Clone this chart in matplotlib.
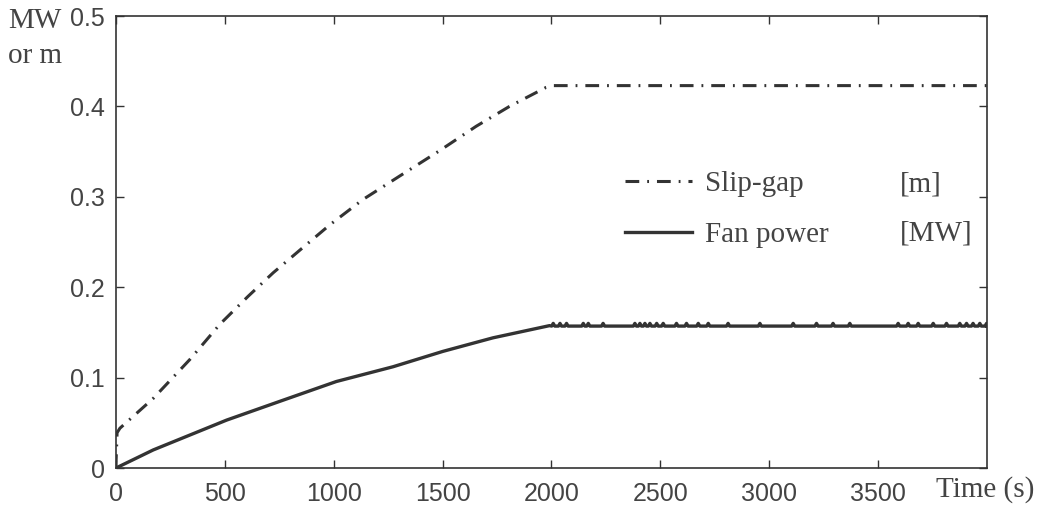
import numpy as np
import matplotlib.pyplot as plt

# slip-gap [m]
slip_t = [0, 0, 5, 18, 171, 339, 477, 607, 722, 859, 982, 1134, 1303, 1486, 1654, 1807, 1975, 2010, 4000]
slip_v = [0.0, 0.005, 0.039, 0.044, 0.077, 0.120, 0.159, 0.190, 0.216, 0.244, 0.269, 0.297, 0.323, 0.351,
          0.378, 0.400, 0.421, 0.423, 0.423]

# fan power [MW], rising part
fan_t = [0, 171, 508, 767, 1012, 1272, 1501, 1731, 1991]
fan_v = [0.0, 0.020, 0.053, 0.075, 0.0957, 0.112, 0.129, 0.144, 0.1575]
# flat part: level plus the small ripples seen on it
fan_level = 0.157
ripple_h = 0.160
ripple_t = [2008, 2039, 2069, 2146, 2169, 2237, 2383, 2406, 2429, 2452, 2483, 2513, 2574, 2620, 2674,
            2720, 2811, 2957, 3110, 3217, 3293, 3370, 3592, 3638, 3684, 3753, 3814, 3875, 3906, 3936,
            3967, 3998]

xticks = [0, 500, 1000, 1500, 2000, 2500, 3000, 3500]
yticks = [0, 0.1, 0.2, 0.3, 0.4, 0.5]
ylabels = ['0', '0.1', '0.2', '0.3', '0.4', '0.5']

# build fan series incl. ripples
ft = list(fan_t)
fv = list(fan_v)
for t in ripple_t:
    ft += [t - 7, t, t + 7]
    fv += [fan_level, ripple_h, fan_level]
ft.append(4000)
fv.append(fan_level)

serif = 'Liberation Serif'
sans = 'Liberation Sans'
ink = '#333333'
txt = '#444444'
fs = 21

fig = plt.figure(figsize=(10.44, 5.08), dpi=100)
ax = fig.add_axes([0.1111, 0.0787, 0.8343, 0.8898])

l1, = ax.plot(slip_t, slip_v, color=ink, lw=2.2, linestyle=(0, (4.5, 2.6, 0.6, 2.6)))
l2, = ax.plot(ft, fv, color=ink, lw=2.4)

ax.set_xlim(0, 4000)
ax.set_ylim(0, 0.5)
ax.set_xticks(xticks)
ax.set_xticklabels([str(x) for x in xticks])
ax.set_yticks(yticks)
ax.set_yticklabels(ylabels)
ax.tick_params(direction='in', top=True, right=True, length=6, width=1, colors=ink,
               labelsize=18, labelcolor=txt)
ax.tick_params(axis='x', pad=10)
ax.tick_params(axis='y', pad=8)
for lab in ax.get_xticklabels() + ax.get_yticklabels():
    lab.set_family(sans)
for s in ax.spines.values():
    s.set_color(ink)
    s.set_linewidth(1.2)

# axis captions
fig.text(0.008, 0.945, 'MW', family=serif, fontsize=fs, color=txt, va='baseline')
fig.text(0.008, 0.876, 'or m', family=serif, fontsize=fs, color=txt, va='baseline')
fig.text(0.8966, 0.0354, 'Time (s)', family=serif, fontsize=fs, color=txt, va='center')

leg = ax.legend([l1, l2], ['Slip-gap', 'Fan power'], loc='upper left', bbox_to_anchor=(0.584, 0.658),
                frameon=False, prop={'family': serif, 'size': fs}, handlelength=2.3,
                handletextpad=0.45, labelspacing=0.85, borderaxespad=0, borderpad=0)
for t in leg.get_texts():
    t.set_color(txt)
ax.text(0.900, 0.627, '[m]', transform=ax.transAxes, family=serif, fontsize=fs, color=txt, va='center')
ax.text(0.900, 0.518, '[MW]', transform=ax.transAxes, family=serif, fontsize=fs, color=txt, va='center')

fig.savefig('out.png', dpi=100)
